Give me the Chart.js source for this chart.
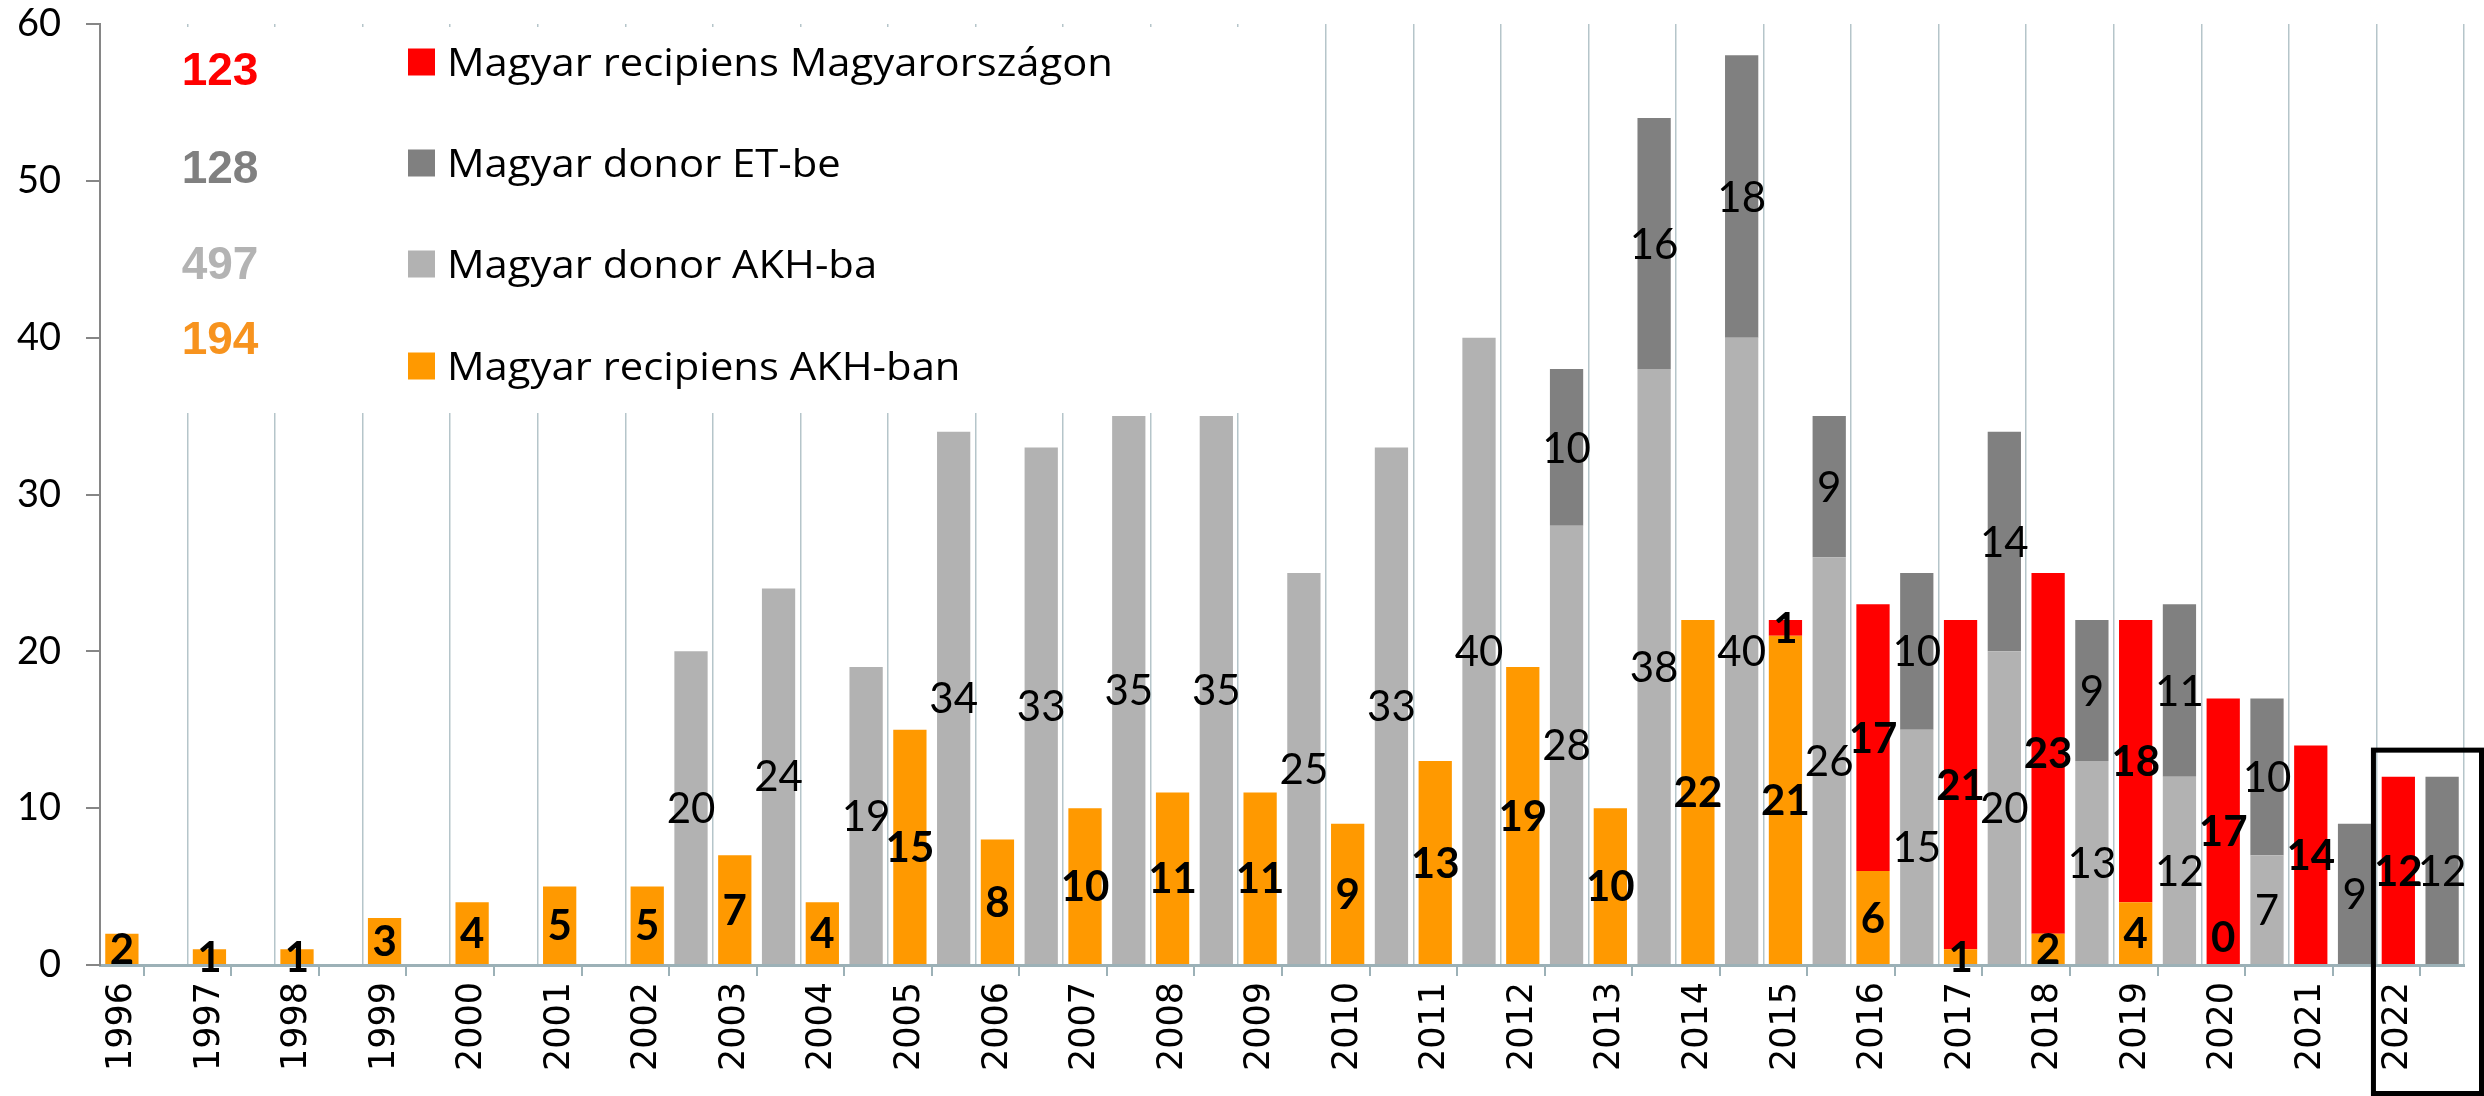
<!DOCTYPE html>
<html>
<head>
<meta charset="utf-8">
<script src="https://cdn.jsdelivr.net/npm/chart.js@4.4.1/dist/chart.umd.min.js"></script>
<style>
  html, body { margin: 0; padding: 0; background: #fff; }
  #wrap { width: 2484px; height: 1096px; }
</style>
</head>
<body>
<div id="wrap"><canvas id="chart" width="2484" height="1096"></canvas></div>
<script>
// --- data ---
const years = ['1996','1997','1998','1999','2000','2001','2002','2003','2004','2005',
  '2006','2007','2008','2009','2010','2011','2012','2013','2014','2015',
  '2016','2017','2018','2019','2020','2021','2022'];

// Magyar recipiens AKH-ban (narancs)
const akhBan = [2,1,1,3,4,5,5,7,4,15,8,10,11,11,9,13,19,10,22,21,6,1,2,4,0,null,null];
// Magyar recipiens Magyarországon (piros)
const magyarorszagon = [null,null,null,null,null,null,null,null,null,null,
  null,null,null,null,null,null,null,null,null,1,17,21,23,18,17,14,12];
// Magyar donor AKH-ba (világosszürke)
const akhBa = [null,null,null,null,null,null,20,24,19,34,33,35,35,25,33,40,28,38,40,26,15,20,13,12,7,null,null];
// Magyar donor ET-be (sötétszürke)
const etBe = [null,null,null,null,null,null,null,null,null,null,
  null,null,null,null,null,null,10,16,18,9,10,14,9,11,10,9,12];

const yMax = 60;
const yStep = 10;

const ORANGE = '#FF9900';
const RED = '#FF0000';
const LIGHT = '#B2B2B2';
const DARK = '#808080';

const sum = arr => arr.reduce((a, b) => a + (b || 0), 0);

// legend rows, top to bottom
const legendRows = [
  { label: 'Magyar recipiens Magyarországon', color: RED, total: sum(magyarorszagon), totalColor: '#FF0000' },
  { label: 'Magyar donor ET-be', color: DARK, total: sum(etBe), totalColor: '#808080' },
  { label: 'Magyar donor AKH-ba', color: LIGHT, total: sum(akhBa), totalColor: '#B3B3B3' },
  { label: 'Magyar recipiens AKH-ban', color: ORANGE, total: sum(akhBan), totalColor: '#F7931E' }
];

// legend box drawn over the grid, under the bars
const legendBox = {
  id: 'legendBox',
  beforeDatasetsDraw(chart) {
    const ctx = chart.ctx;
    ctx.save();
    ctx.fillStyle = '#fff';
    ctx.fillRect(150, 27, 1140, 386);
    const rowY = [62, 163, 264, 366];
    const totalY = [68, 166, 262, 337];
    legendRows.forEach((r, i) => {
      ctx.font = 'bold 46px "Liberation Sans", Arial, sans-serif';
      ctx.fillStyle = r.totalColor;
      ctx.textAlign = 'center';
      ctx.textBaseline = 'alphabetic';
      ctx.fillText(String(r.total), 220, totalY[i] + 16.5);

      ctx.fillStyle = r.color;
      ctx.fillRect(408, rowY[i] - 13.5, 27, 27);

      // text is a bit wider in the original, stretch it horizontally
      ctx.save();
      ctx.translate(447, rowY[i] + 13.5);
      ctx.scale(1.1, 1);
      ctx.fillStyle = '#000';
      ctx.textAlign = 'left';
      ctx.font = '38px "Open Sans", sans-serif';
      ctx.fillText(r.label, 0, 0);
      ctx.restore();
    });
    ctx.restore();
  }
};

// value labels inside the bar segments
const valueLabels = {
  id: 'valueLabels',
  afterDatasetsDraw(chart) {
    const ctx = chart.ctx;
    const size = 42;
    ctx.save();
    ctx.fillStyle = '#000';
    ctx.textAlign = 'center';
    ctx.textBaseline = 'alphabetic';
    chart.data.datasets.forEach((ds, i) => {
      const meta = chart.getDatasetMeta(i);
      ctx.font = (ds.boldLabels ? 'bold ' : '') + size + 'px Lato, sans-serif';
      meta.data.forEach((bar, j) => {
        const v = ds.data[j];
        if (v === null || v === undefined) return;
        const cy = v === 0 ? bar.base - size * 0.67 : (bar.y + bar.base) / 2;
        ctx.fillText(String(v), bar.x, cy + size * 0.36);
      });
    });
    ctx.restore();
  }
};

// black frame around the last year
const lastYearBox = {
  id: 'lastYearBox',
  afterDraw(chart) {
    const x = chart.scales.x;
    const y = chart.scales.y;
    const half = (x.getPixelForValue(1) - x.getPixelForValue(0)) / 2;
    const left = x.getPixelForValue(years.length - 1) - half - 3;
    const top = y.getPixelForValue(13.7);
    const ctx = chart.ctx;
    ctx.save();
    ctx.strokeStyle = '#000';
    ctx.lineWidth = 5;
    ctx.strokeRect(left, top, chart.width - 2.5 - left, chart.height - 2.5 - top);
    ctx.restore();
  }
};

const ctx = document.getElementById('chart').getContext('2d');
new Chart(ctx, {
  type: 'bar',
  data: {
    labels: years,
    datasets: [
      { label: 'Magyar recipiens AKH-ban', data: akhBan, backgroundColor: ORANGE, stack: 'recipiens', boldLabels: true },
      { label: 'Magyar recipiens Magyarországon', data: magyarorszagon, backgroundColor: RED, stack: 'recipiens', boldLabels: true },
      { label: 'Magyar donor AKH-ba', data: akhBa, backgroundColor: LIGHT, stack: 'donor' },
      { label: 'Magyar donor ET-be', data: etBe, backgroundColor: DARK, stack: 'donor' }
    ]
  },
  options: {
    responsive: false,
    devicePixelRatio: 1,
    animation: false,
    categoryPercentage: 1.0,
    barPercentage: 0.76,
    layout: { padding: { top: 24, right: 20, left: 0, bottom: 0 } },
    plugins: {
      legend: { display: false },
      tooltip: { enabled: false }
    },
    scales: {
      x: {
        stacked: true,
        offset: true,
        grid: { offset: false, drawOnChartArea: false, drawTicks: true, tickLength: 11, color: '#9CB1B7', lineWidth: 2 },
        border: { color: '#9CB1B7', width: 3 },
        ticks: {
          autoSkip: false, minRotation: 90, maxRotation: 90,
          labelOffset: -21.9, padding: 6,
          color: '#000', font: { family: '"DejaVu Sans", sans-serif', size: 35 }
        },
        afterFit: s => { s.height = 131; }
      },
      xg: {
        type: 'category',
        position: 'bottom',
        weight: 10,
        offset: true,
        grid: { offset: true, drawOnChartArea: true, drawTicks: false, color: '#B5C5CA', lineWidth: 1.5 },
        border: { display: false },
        ticks: { display: false },
        afterFit: s => { s.height = 0; }
      },
      y: {
        stacked: true,
        min: 0, max: yMax,
        ticks: { stepSize: yStep, padding: 25, color: '#000', font: { family: 'Lato, sans-serif', size: 38 } },
        grid: { drawOnChartArea: false, drawTicks: true, tickLength: 14, color: '#868686', lineWidth: 2 },
        border: { color: '#868686', width: 2 },
        afterFit: s => { s.width = 100; s.paddingTop = 0; s.paddingBottom = 0; }
      }
    }
  },
  plugins: [legendBox, valueLabels, lastYearBox]
});
</script>
</body>
</html>
